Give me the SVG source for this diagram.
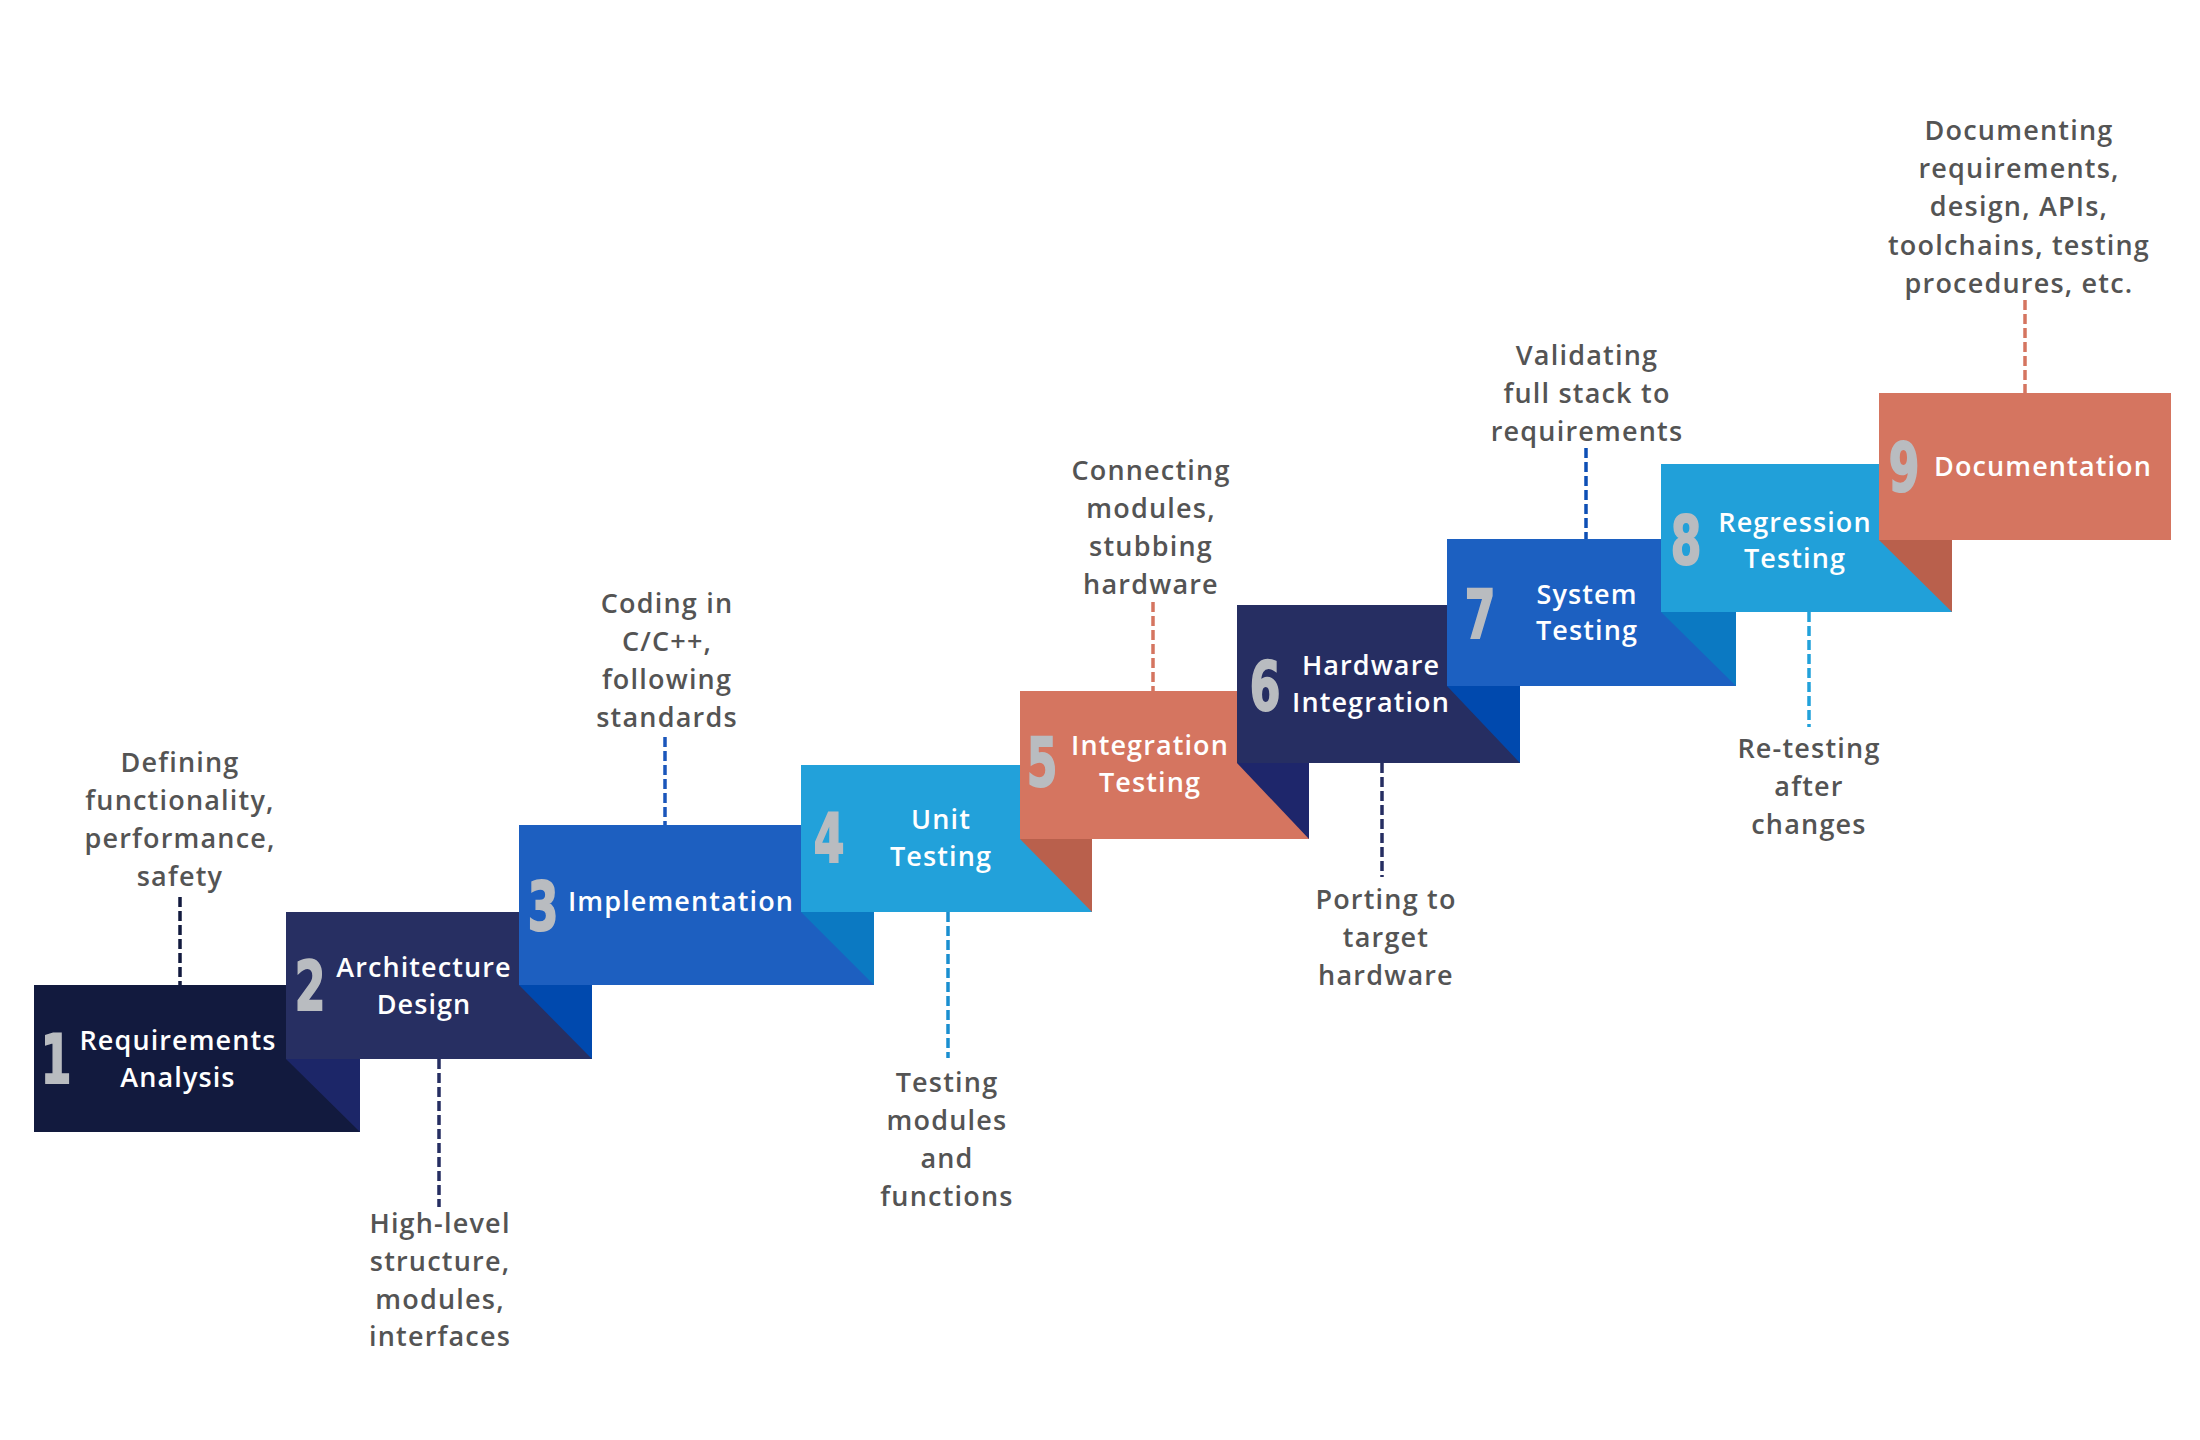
<svg xmlns="http://www.w3.org/2000/svg" width="2200" height="1440" viewBox="0 0 2200 1440">
<style>
.lbl{font-family:"Open Sans","Noto Sans",sans-serif;font-weight:600;font-size:27px;fill:#ffffff;text-anchor:middle;letter-spacing:1.1px}
.num{font-family:"Liberation Sans Narrow","DejaVu Sans Condensed","Roboto",sans-serif;font-weight:700;font-size:68px;fill:#b9bcc0;stroke:#b9bcc0;stroke-width:2;text-anchor:middle}
.desc{font-family:"Open Sans","Noto Sans",sans-serif;font-weight:600;font-size:27px;fill:#545454;text-anchor:middle;letter-spacing:1.2px}
.dash{stroke-width:3.5;stroke-dasharray:10 4;fill:none}
</style>
<rect width="2200" height="1440" fill="#ffffff"/>

<g id="connectors">
<line class="dash" x1="180" y1="897" x2="180" y2="985" stroke="#121a3e"/>
<line class="dash" x1="439" y1="1059" x2="439" y2="1207" stroke="#262e62"/>
<line class="dash" x1="665" y1="737" x2="665" y2="825" stroke="#1a56bb"/>
<line class="dash" x1="948" y1="912" x2="948" y2="1058" stroke="#1a8fd0"/>
<line class="dash" x1="1153" y1="602" x2="1153" y2="691" stroke="#d57560"/>
<line class="dash" x1="1382" y1="763" x2="1382" y2="877" stroke="#262e62"/>
<line class="dash" x1="1586" y1="448" x2="1586" y2="539" stroke="#0d4fb5"/>
<line class="dash" x1="1809" y1="612" x2="1809" y2="727" stroke="#22a1da"/>
<line class="dash" x1="2025" y1="300" x2="2025" y2="393" stroke="#d57560"/>
</g>

<g id="step-1">
<rect x="34" y="985" width="326" height="147" fill="#121a3e"/>
<text class="num" transform="translate(56,1083) scale(0.72,1)">1</text>
<text class="lbl" x="178" y="1050">Requirements</text>
<text class="lbl" x="178" y="1087">Analysis</text>
</g>

<g id="step-2">
<rect x="286" y="912" width="306" height="147" fill="#272f62"/>
<polygon points="286,1059 360,1059 360,1132" fill="#1c2668"/>
<text class="num" transform="translate(310,1010) scale(0.72,1)">2</text>
<text class="lbl" x="424" y="977">Architecture</text>
<text class="lbl" x="424" y="1014">Design</text>
</g>

<g id="step-3">
<rect x="519" y="825" width="355" height="160" fill="#1d5fc0"/>
<polygon points="519,985 592,985 592,1059" fill="#0049ae"/>
<text class="num" transform="translate(543,930) scale(0.72,1)">3</text>
<text class="lbl" x="681" y="911">Implementation</text>
</g>

<g id="step-4">
<rect x="801" y="765" width="291" height="147" fill="#22a1da"/>
<polygon points="801,912 874,912 874,985" fill="#0b79c2"/>
<text class="num" transform="translate(829,862) scale(0.72,1)">4</text>
<text class="lbl" x="941" y="829">Unit</text>
<text class="lbl" x="941" y="866">Testing</text>
</g>

<g id="step-5">
<rect x="1020" y="691" width="289" height="148" fill="#d57560"/>
<polygon points="1020,839 1092,839 1092,912" fill="#b9604c"/>
<text class="num" transform="translate(1042,786) scale(0.72,1)">5</text>
<text class="lbl" x="1150" y="755">Integration</text>
<text class="lbl" x="1150" y="792">Testing</text>
</g>

<g id="step-6">
<rect x="1237" y="605" width="283" height="158" fill="#262e62"/>
<polygon points="1237,763 1309,763 1309,839" fill="#1e266b"/>
<text class="num" transform="translate(1265,710) scale(0.72,1)">6</text>
<text class="lbl" x="1371" y="675">Hardware</text>
<text class="lbl" x="1371" y="712">Integration</text>
</g>

<g id="step-7">
<rect x="1447" y="539" width="289" height="147" fill="#1c60c1"/>
<polygon points="1447,686 1520,686 1520,763" fill="#0049ae"/>
<text class="num" transform="translate(1480,638) scale(0.72,1)">7</text>
<text class="lbl" x="1587" y="604">System</text>
<text class="lbl" x="1587" y="640">Testing</text>
</g>

<g id="step-8">
<rect x="1661" y="464" width="291" height="148" fill="#21a0d9"/>
<polygon points="1661,612 1736,612 1736,686" fill="#0b79c2"/>
<text class="num" transform="translate(1686,564) scale(0.72,1)">8</text>
<text class="lbl" x="1795" y="532">Regression</text>
<text class="lbl" x="1795" y="568">Testing</text>
</g>

<g id="step-9">
<rect x="1879" y="393" width="292" height="147" fill="#d57560"/>
<polygon points="1879,540 1952,540 1952,612" fill="#b9604c"/>
<text class="num" transform="translate(1904,491) scale(0.72,1)">9</text>
<text class="lbl" x="2043" y="476">Documentation</text>
</g>

<g id="note-1">
<text class="desc" x="180" y="772">Defining</text>
<text class="desc" x="180" y="810">functionality,</text>
<text class="desc" x="180" y="848">performance,</text>
<text class="desc" x="180" y="886">safety</text>
</g>
<g id="note-2">
<text class="desc" x="440" y="1233">High-level</text>
<text class="desc" x="440" y="1271">structure,</text>
<text class="desc" x="440" y="1309">modules,</text>
<text class="desc" x="440" y="1346">interfaces</text>
</g>
<g id="note-3">
<text class="desc" x="667" y="613">Coding in</text>
<text class="desc" x="667" y="651">C/C++,</text>
<text class="desc" x="667" y="689">following</text>
<text class="desc" x="667" y="727">standards</text>
</g>
<g id="note-4">
<text class="desc" x="947" y="1092">Testing</text>
<text class="desc" x="947" y="1130">modules</text>
<text class="desc" x="947" y="1168">and</text>
<text class="desc" x="947" y="1206">functions</text>
</g>
<g id="note-5">
<text class="desc" x="1151" y="480">Connecting</text>
<text class="desc" x="1151" y="518">modules,</text>
<text class="desc" x="1151" y="556">stubbing</text>
<text class="desc" x="1151" y="594">hardware</text>
</g>
<g id="note-6">
<text class="desc" x="1386" y="909">Porting to</text>
<text class="desc" x="1386" y="947">target</text>
<text class="desc" x="1386" y="985">hardware</text>
</g>
<g id="note-7">
<text class="desc" x="1587" y="365">Validating</text>
<text class="desc" x="1587" y="403">full stack to</text>
<text class="desc" x="1587" y="441">requirements</text>
</g>
<g id="note-8">
<text class="desc" x="1809" y="758">Re-testing</text>
<text class="desc" x="1809" y="796">after</text>
<text class="desc" x="1809" y="834">changes</text>
</g>
<g id="note-9">
<text class="desc" x="2019" y="140">Documenting</text>
<text class="desc" x="2019" y="178">requirements,</text>
<text class="desc" x="2019" y="216">design, APIs,</text>
<text class="desc" x="2019" y="255">toolchains, testing</text>
<text class="desc" x="2019" y="293">procedures, etc.</text>
</g>
</svg>
